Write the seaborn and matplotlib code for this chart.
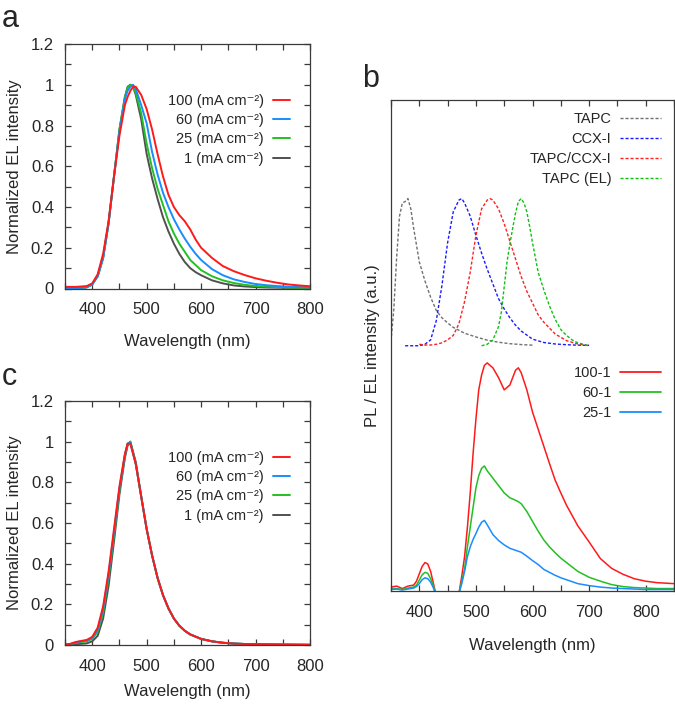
import matplotlib
matplotlib.use("Agg")
import matplotlib.pyplot as plt
from matplotlib.ticker import MultipleLocator, FuncFormatter
from matplotlib.lines import Line2D
import seaborn as sns

# ---------------- data ----------------
# Panel a: normalized EL spectra at different current densities
wl_a = [350, 360, 370, 380, 390, 400, 410, 420, 430, 440, 450, 460, 465, 470, 475, 480, 490,
        500, 510, 520, 530, 540, 550, 560, 570, 580, 590, 600, 620, 640, 660, 680,
        700, 720, 740, 760, 780, 800]
a_1 = [0.002, 0.002, 0.002, 0.003, 0.006, 0.02, 0.06, 0.15, 0.32, 0.55, 0.78, 0.94, 0.99, 1.0, 0.99, 0.95, 0.83,
       0.66, 0.54, 0.44, 0.35, 0.28, 0.22, 0.17, 0.13, 0.10, 0.08, 0.065, 0.04, 0.025, 0.015, 0.01,
       0.007, 0.005, 0.004, 0.003, 0.003, 0.003]
a_25 = [0.002, 0.002, 0.002, 0.003, 0.006, 0.02, 0.06, 0.15, 0.32, 0.55, 0.78, 0.94, 0.985, 1.0, 0.99, 0.96, 0.86,
        0.71, 0.59, 0.49, 0.41, 0.33, 0.27, 0.22, 0.18, 0.14, 0.115, 0.09, 0.06, 0.04, 0.027, 0.018,
        0.012, 0.009, 0.007, 0.005, 0.004, 0.004]
a_60 = [0.002, 0.002, 0.002, 0.003, 0.006, 0.02, 0.06, 0.15, 0.32, 0.55, 0.77, 0.93, 0.97, 0.99, 1.0, 0.98, 0.9,
        0.81, 0.67, 0.56, 0.47, 0.40, 0.34, 0.29, 0.245, 0.205, 0.17, 0.14, 0.095, 0.065, 0.045, 0.032,
        0.022, 0.016, 0.012, 0.009, 0.007, 0.006]
a_100 = [0.008, 0.008, 0.008, 0.01, 0.012, 0.025, 0.07, 0.17, 0.33, 0.55, 0.75, 0.9, 0.94, 0.97, 0.99, 0.99, 0.95,
         0.88, 0.78, 0.66, 0.55, 0.46, 0.4, 0.36, 0.33, 0.29, 0.24, 0.2, 0.15, 0.11, 0.085, 0.066,
         0.05, 0.038, 0.028, 0.02, 0.015, 0.011]

# Panel c
wl_c = [350, 360, 370, 380, 390, 400, 410, 420, 430, 440, 450, 460, 465, 470, 480, 490, 500,
        510, 520, 530, 540, 550, 560, 570, 580, 600, 620, 640, 660, 680, 700, 750, 800]
c_100 = [0.002, 0.006, 0.015, 0.02, 0.025, 0.04, 0.085, 0.19, 0.36, 0.57, 0.78, 0.94, 0.99, 0.99, 0.89, 0.73, 0.57,
         0.44, 0.33, 0.245, 0.18, 0.13, 0.095, 0.07, 0.052, 0.03, 0.018, 0.011, 0.007, 0.005, 0.004, 0.002, 0.001]
c_60 = [0.002, 0.005, 0.013, 0.018, 0.022, 0.035, 0.075, 0.175, 0.345, 0.555, 0.77, 0.935, 0.99, 0.995, 0.89, 0.73, 0.57,
        0.44, 0.33, 0.245, 0.18, 0.13, 0.095, 0.07, 0.052, 0.03, 0.018, 0.011, 0.007, 0.005, 0.004, 0.002, 0.001]
c_25 = [0.002, 0.004, 0.01, 0.015, 0.018, 0.03, 0.065, 0.16, 0.33, 0.54, 0.76, 0.93, 0.99, 1.0, 0.89, 0.73, 0.57,
        0.44, 0.33, 0.245, 0.18, 0.13, 0.095, 0.07, 0.052, 0.03, 0.018, 0.011, 0.007, 0.005, 0.004, 0.002, 0.001]
c_1 = [0.001, 0.002, 0.004, 0.006, 0.008, 0.018, 0.045, 0.13, 0.29, 0.51, 0.74, 0.92, 0.98, 1.0, 0.9, 0.73, 0.57,
       0.44, 0.33, 0.245, 0.18, 0.13, 0.095, 0.07, 0.052, 0.03, 0.018, 0.011, 0.007, 0.005, 0.004, 0.002, 0.001]

# Panel b: normalized PL / EL reference spectra (dashed)
wl_tapc = [350, 355, 360, 365, 370, 375, 380, 385, 390, 400, 410, 420, 430, 440, 450, 460,
           480, 500, 520, 540, 560, 580, 600]
pl_tapc = [0.03, 0.25, 0.6, 0.88, 0.97, 0.98, 1.0, 0.93, 0.8, 0.57, 0.44, 0.33, 0.24, 0.19, 0.155, 0.125,
           0.085, 0.06, 0.038, 0.024, 0.014, 0.008, 0.004]
wl_ccx = [375, 400, 410, 420, 430, 440, 450, 460, 470, 475, 480, 490, 500, 510, 520, 530, 540,
          550, 560, 570, 580, 600, 620, 640, 660, 680, 700]
pl_ccx = [0.0, 0.0, 0.01, 0.04, 0.17, 0.41, 0.7, 0.91, 0.99, 1.0, 0.97, 0.88, 0.75, 0.63, 0.52, 0.42, 0.32,
          0.25, 0.19, 0.14, 0.1, 0.045, 0.022, 0.012, 0.007, 0.004, 0.003]
wl_exc = [400, 410, 420, 430, 440, 450, 460, 470, 480, 490, 500, 510, 520, 525, 530, 540, 550,
          560, 570, 580, 590, 600, 610, 620, 640, 660, 680, 700]
pl_exc = [0.01, 0.005, 0.005, 0.01, 0.02, 0.04, 0.07, 0.15, 0.3, 0.5, 0.75, 0.93, 0.99, 1.0, 0.99, 0.93, 0.83,
          0.71, 0.59, 0.47, 0.37, 0.29, 0.21, 0.16, 0.08, 0.035, 0.012, 0.0]
wl_tel = [510, 520, 530, 540, 545, 550, 555, 560, 565, 570, 575, 580, 585, 590, 595, 600, 610,
          620, 630, 640, 650, 660, 670, 680, 690, 700]
el_tapc = [0.0, 0.01, 0.04, 0.13, 0.23, 0.4, 0.57, 0.69, 0.8, 0.9, 0.98, 1.0, 0.97, 0.91, 0.81, 0.7, 0.5,
           0.38, 0.27, 0.18, 0.11, 0.07, 0.04, 0.02, 0.01, 0.0]

# Panel b: difference spectra (solid)
wl_b = [350, 360, 370, 380, 390, 395, 400, 405, 410, 415, 420, 425, 430, 440, 450, 460, 470,
        475, 480, 485, 490, 495, 500, 505, 510, 515, 520, 530, 540, 550, 560, 570, 575, 580,
        590, 600, 610, 620, 630, 640, 650, 660, 680, 700, 720, 740, 760, 780, 800, 820, 850]
d_100 = [0.008, 0.01, 0.005, 0.01, 0.012,
         0.02, 0.035, 0.05, 0.058, 0.055, 0.04, 0.015, -0.01,
         -0.02, -0.02, -0.02, -0.005,
         0.03, 0.07, 0.13, 0.2, 0.28, 0.35, 0.41, 0.44, 0.46, 0.465,
         0.455, 0.435, 0.41, 0.42, 0.45,
         0.455, 0.445,
         0.41, 0.365, 0.33, 0.295, 0.26, 0.226, 0.2, 0.175,
         0.133, 0.1, 0.066, 0.046, 0.034, 0.025, 0.02, 0.017,
         0.015]
d_60 = [0.005, 0.005, 0.003, 0.006, 0.008,
        0.012, 0.022, 0.033, 0.038, 0.036, 0.025, 0.01, -0.01,
        -0.02, -0.02, -0.02, -0.005,
        0.02, 0.045, 0.09, 0.13, 0.17, 0.21, 0.235, 0.25, 0.255, 0.245,
        0.23, 0.215, 0.2, 0.19, 0.185,
        0.182, 0.178,
        0.162, 0.142, 0.122, 0.104, 0.09, 0.078, 0.067, 0.058,
        0.04, 0.028, 0.02, 0.013, 0.009, 0.007, 0.006, 0.005,
        0.005]
d_25 = [0.003, 0.004, 0.002, 0.004, 0.006,
        0.009, 0.015, 0.023, 0.027, 0.025, 0.018, 0.006, -0.01,
        -0.02, -0.02, -0.02, -0.005,
        0.015, 0.04, 0.07, 0.09, 0.105, 0.117, 0.13, 0.14, 0.144, 0.135,
        0.115, 0.103, 0.094, 0.087, 0.083,
        0.081, 0.079,
        0.071, 0.062, 0.054, 0.044, 0.038, 0.032, 0.027, 0.023,
        0.015, 0.011, 0.008, 0.006, 0.005, 0.004, 0.003, 0.003,
        0.003]

labels_cur = ["100 (mA cm\u207b\u00b2)", "60 (mA cm\u207b\u00b2)", "25 (mA cm\u207b\u00b2)", "1 (mA cm\u207b\u00b2)"]
labels_ref = ["TAPC", "CCX-I", "TAPC/CCX-I", "TAPC (EL)"]
labels_diff = ["100-1", "60-1", "25-1"]

# offsets for stacking the reference spectra above the difference spectra
REF_OFFSET = 0.5
REF_SCALE = 0.3

# ---------------- style ----------------
sns.set_style("ticks")
plt.rcParams["font.family"] = ["Liberation Sans", "DejaVu Sans"]
plt.rcParams["axes.edgecolor"] = "#3a3a3a"
plt.rcParams["axes.linewidth"] = 0.9

RED = "#ff1a1a"
BLUE = "#1a8cff"
GREEN = "#22c022"
GRAY = "#505050"

W, H = 675, 713
fig = plt.figure(figsize=(W / 100, H / 100), dpi=100)


def fbox(l, t, r, b):
    return [l / W, 1 - b / H, (r - l) / W, (b - t) / H]


ax_a = fig.add_axes(fbox(65, 44, 310, 288.5))
ax_c = fig.add_axes(fbox(65, 401, 310, 645))
ax_b = fig.add_axes(fbox(391, 100.5, 674, 591))

fmt = FuncFormatter(lambda v, p: f"{v:g}")


def style_el(ax, xlabelpad):
    ax.set_xlim(350, 800)
    ax.set_ylim(0, 1.2)
    ax.xaxis.set_major_locator(MultipleLocator(100))
    ax.xaxis.set_minor_locator(MultipleLocator(50))
    ax.yaxis.set_major_locator(MultipleLocator(0.2))
    ax.yaxis.set_minor_locator(MultipleLocator(0.1))
    ax.yaxis.set_major_formatter(fmt)
    ax.tick_params(which="both", direction="in", top=True, right=True, length=4,
                   width=0.9, color="#3a3a3a", labelsize=12)
    ax.tick_params(axis="x", which="major", pad=10)
    ax.tick_params(axis="y", which="major", pad=8)
    ax.set_xticks([400, 500, 600, 700, 800])
    ax.set_xlabel("Wavelength (nm)", fontsize=12, labelpad=xlabelpad)
    ax.set_ylabel("Normalized EL intensity", fontsize=12, labelpad=6)
    for s in ax.spines.values():
        s.set_visible(True)


def el_panel(ax, wl, s1, s25, s60, s100, legend_top, xlabelpad):
    handles = []
    for vals, col, lab in [(s1, GRAY, labels_cur[3]), (s25, GREEN, labels_cur[2]),
                           (s60, BLUE, labels_cur[1]), (s100, RED, labels_cur[0])]:
        sns.lineplot(x=wl, y=vals, ax=ax, color=col, lw=1.4, estimator=None, sort=False)
        handles.append(Line2D([], [], color=col, lw=1.4, label=lab))
    handles = handles[::-1]
    ax.legend(handles=handles, loc="upper right", bbox_to_anchor=(290 / W, 1 - legend_top / H),
              bbox_transform=fig.transFigure, markerfirst=False, frameon=False,
              borderpad=0, borderaxespad=0, handlelength=1.2, handletextpad=0.6,
              labelspacing=0.36, fontsize=10.5)
    style_el(ax, xlabelpad)


el_panel(ax_a, wl_a, a_1, a_25, a_60, a_100, 94, 12)
el_panel(ax_c, wl_c, c_1, c_25, c_60, c_100, 451, 7)

# ---------------- panel b ----------------
dash = (0, (2.2, 1.4))
ref_handles = []
for wl, vals, col, lab in [(wl_tapc, pl_tapc, "#707070", labels_ref[0]),
                           (wl_ccx, pl_ccx, "#1a1aff", labels_ref[1]),
                           (wl_exc, pl_exc, "#ff2020", labels_ref[2]),
                           (wl_tel, el_tapc, "#10c010", labels_ref[3])]:
    yv = [REF_OFFSET + REF_SCALE * v for v in vals]
    sns.lineplot(x=wl, y=yv, ax=ax_b, color=col, lw=1.0, linestyle=dash, estimator=None, sort=False)
    ref_handles.append(Line2D([], [], color=col, lw=1.0, linestyle=dash, label=lab))

diff_handles = []
for vals, col, lab in [(d_100, "#ff1a1a", labels_diff[0]), (d_60, "#22c022", labels_diff[1]),
                       (d_25, "#1a8cff", labels_diff[2])]:
    sns.lineplot(x=wl_b, y=vals, ax=ax_b, color=col, lw=1.1, estimator=None, sort=False)
    diff_handles.append(Line2D([], [], color=col, lw=1.3, label=lab))

ax_b.set_xlim(350, 850)
ax_b.set_ylim(0, 1)
ax_b.set_yticks([])
ax_b.xaxis.set_major_locator(MultipleLocator(100))
ax_b.xaxis.set_minor_locator(MultipleLocator(50))
ax_b.set_xticks([400, 500, 600, 700, 800])
ax_b.tick_params(axis="x", which="both", direction="in", top=True, length=4, width=0.9,
                 color="#3a3a3a", labelsize=12)
ax_b.tick_params(axis="x", which="major", pad=10)
ax_b.set_xlabel("Wavelength (nm)", fontsize=12, labelpad=13)
ax_b.set_ylabel("PL / EL intensity (a.u.)", fontsize=12, labelpad=8)
for s in ax_b.spines.values():
    s.set_visible(True)

leg1 = ax_b.legend(handles=ref_handles, loc="upper right", bbox_to_anchor=(661 / W, 1 - 112 / H),
                   bbox_transform=fig.transFigure, markerfirst=False, frameon=False,
                   borderpad=0, borderaxespad=0, handlelength=2.8, handletextpad=0.6,
                   labelspacing=0.41, fontsize=10.5)
ax_b.add_artist(leg1)
ax_b.legend(handles=diff_handles, loc="upper right", bbox_to_anchor=(661 / W, 1 - 366 / H),
            bbox_transform=fig.transFigure, markerfirst=False, frameon=False,
            borderpad=0, borderaxespad=0, handlelength=2.8, handletextpad=0.6,
            labelspacing=0.41, fontsize=10.5)

# panel letters
fig.text(2 / W, 1 - 27 / H, "a", fontsize=22, va="baseline", ha="left")
fig.text(362 / W, 1 - 87 / H, "b", fontsize=22, va="baseline", ha="left")
fig.text(2 / W, 1 - 385 / H, "c", fontsize=22, va="baseline", ha="left")

fig.savefig("out.png", dpi=100)
